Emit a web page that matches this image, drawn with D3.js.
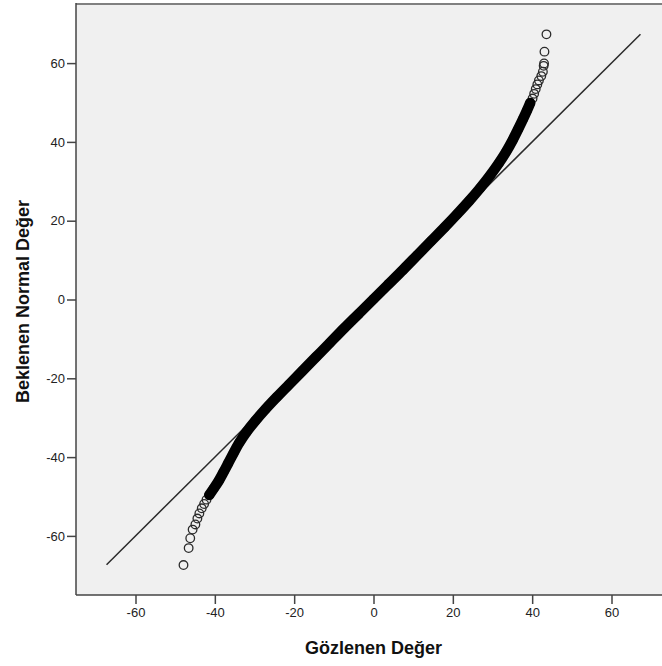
<!DOCTYPE html>
<html>
<head>
<meta charset="utf-8">
<script src="https://cdn.jsdelivr.net/npm/d3@7"></script>
<style>
  body { margin: 0; background: #fff; }
  text { font-family: "Liberation Sans", Arial, sans-serif; }
</style>
</head>
<body>
<div id="container"></div>
<script>
var WIDTH = 662,
    HEIGHT = 666;

var lowerTail = [
  [-47.9, -67.4], [-46.6, -63.1], [-46.2, -60.6], [-45.6, -58.4], [-44.9, -57.1],
  [-44.4, -55.6], [-43.9, -54.3], [-43.3, -53.0], [-42.7, -51.9], [-42.1, -50.8]
];
var denseBand = [
  [-41.4, -49.6], [-40.3, -48.0], [-39.0, -46.0], [-37.8, -43.8], [-36.6, -41.5],
  [-35.3, -39.0], [-33.8, -36.3], [-32.0, -33.6], [-29.8, -30.8], [-27.2, -27.8],
  [-24.4, -24.8], [-21.3, -21.6], [-18.0, -18.2], [-14.5, -14.6], [-11.0, -11.0],
  [-7.4, -7.3], [-3.7, -3.6], [0.0, 0.1], [3.7, 3.8], [7.4, 7.5],
  [11.0, 11.2], [14.5, 14.8], [17.9, 18.3], [21.1, 21.7], [24.1, 25.0],
  [26.9, 28.3], [29.4, 31.5], [31.6, 34.6], [33.5, 37.6], [35.1, 40.5],
  [36.5, 43.3], [37.7, 45.8], [38.7, 48.0], [39.5, 49.9]
];
var upperTail = [
  [40.1, 51.0], [40.5, 52.2], [40.9, 53.4], [41.3, 54.6], [41.7, 55.6],
  [42.3, 56.7], [42.7, 57.8], [42.9, 59.3], [43.0, 59.9], [43.1, 62.9], [43.6, 67.3]
];
var refLine = [-67.3, 67.3];
var xTicks = [-60, -40, -20, 0, 20, 40, 60],
    yTicks = [-60, -40, -20, 0, 20, 40, 60];
var xTitle = 'Gözlenen Değer',
    yTitle = 'Beklenen Normal Değer';

var plotLeft = 76, plotTop = 4, plotSize = 591;

var x = d3.scaleLinear().domain([-75, 75]).range([plotLeft, plotLeft + 595]);
var y = d3.scaleLinear().domain([-75, 75]).range([plotTop + plotSize, plotTop]);

var svg = d3.select('#container').append('svg')
    .attr('width', WIDTH)
    .attr('height', HEIGHT);

svg.append('defs').append('clipPath').attr('id', 'plotClip')
  .append('rect')
    .attr('x', plotLeft).attr('y', plotTop)
    .attr('width', 595).attr('height', plotSize);

svg.append('rect')
    .attr('x', plotLeft).attr('y', plotTop)
    .attr('width', 595).attr('height', plotSize)
    .attr('fill', '#f0f0f0');

var plot = svg.append('g').attr('clip-path', 'url(#plotClip)');

// reference line y = x
plot.append('line')
    .attr('x1', x(refLine[0])).attr('y1', y(refLine[0]))
    .attr('x2', x(refLine[1])).attr('y2', y(refLine[1]))
    .attr('stroke', '#2a2a2a')
    .attr('stroke-width', 1.5);

plot.selectAll('circle')
    .data(lowerTail.concat(denseBand, upperTail))
    .enter()
    .append('circle')
      .attr('cx', function(d) { return x(d[0]); })
      .attr('cy', function(d) { return y(d[1]); })
      .attr('r', 4.3)
      .attr('fill', 'none')
      .attr('stroke', '#2b2b2b')
      .attr('stroke-width', 1.3);

// the thousands of overlapping markers in the middle read as one solid band
plot.append('path')
    .datum(denseBand)
    .attr('d', d3.line()
      .x(function(d) { return x(d[0]); })
      .y(function(d) { return y(d[1]); })
      .curve(d3.curveCatmullRom))
    .attr('fill', 'none')
    .attr('stroke', '#000')
    .attr('stroke-width', 10.5)
    .attr('stroke-linecap', 'round')
    .attr('stroke-linejoin', 'round');

// frame
svg.append('line')
    .attr('x1', plotLeft).attr('x2', WIDTH)
    .attr('y1', plotTop).attr('y2', plotTop)
    .attr('stroke', '#808080').attr('stroke-width', 2);
svg.append('line')
    .attr('x1', plotLeft).attr('x2', plotLeft)
    .attr('y1', plotTop - 1).attr('y2', plotTop + plotSize)
    .attr('stroke', '#444').attr('stroke-width', 1.5);
svg.append('line')
    .attr('x1', plotLeft).attr('x2', WIDTH)
    .attr('y1', plotTop + plotSize).attr('y2', plotTop + plotSize)
    .attr('stroke', '#444').attr('stroke-width', 1.5);

// axes
var fmt = function(d) { return String(d); };
var xAxis = svg.append('g')
    .attr('transform', 'translate(0,' + (plotTop + plotSize) + ')')
    .call(d3.axisBottom(x).tickValues(xTicks).tickFormat(fmt)
      .tickSize(9).tickPadding(4).tickSizeOuter(0));
var yAxis = svg.append('g')
    .attr('transform', 'translate(' + plotLeft + ',0)')
    .call(d3.axisLeft(y).tickValues(yTicks).tickFormat(fmt)
      .tickSize(9).tickPadding(2).tickSizeOuter(0));

[xAxis, yAxis].forEach(function(a) {
  a.select('.domain').remove();
  a.selectAll('line').attr('stroke', '#444').attr('stroke-width', 1.5);
  a.selectAll('text')
      .attr('fill', '#222')
      .style('font-size', '13px')
      .style('font-family', '"Liberation Sans", Arial, sans-serif');
});

svg.append('text')
    .attr('x', x(0))
    .attr('y', 654)
    .attr('text-anchor', 'middle')
    .style('font-size', '18px')
    .style('font-weight', 'bold')
    .attr('fill', '#111')
    .text(xTitle);

svg.append('text')
    .attr('transform', 'translate(29,' + (y(0) + 2) + ') rotate(-90)')
    .attr('text-anchor', 'middle')
    .style('font-size', '18px')
    .style('font-weight', 'bold')
    .attr('fill', '#111')
    .text(yTitle);
</script>
</body>
</html>
